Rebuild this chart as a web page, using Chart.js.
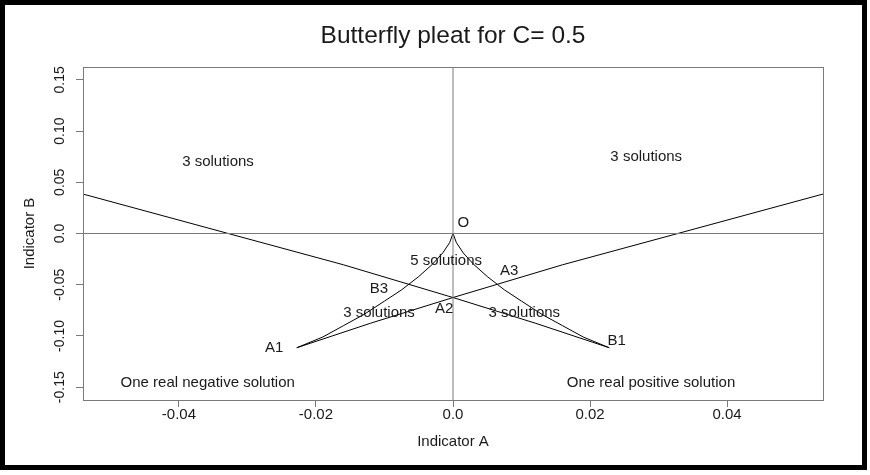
<!DOCTYPE html>
<html>
<head>
<meta charset="utf-8">
<script src="https://cdn.jsdelivr.net/npm/chart.js@4.4.0/dist/chart.umd.min.js"></script>
<style>
  html, body { margin: 0; padding: 0; background: #fff; }
  #area { width: 870px; height: 475px; position: relative; }
</style>
</head>
<body>
<div id="area"><canvas id="grafico"></canvas></div>
<script>
// axis ticks
const xTicks = [-0.04, -0.02, 0, 0.02, 0.04];
const xTickLabels = ['-0.04', '-0.02', '0.0', '0.02', '0.04'];
const yTicks = [-0.15, -0.10, -0.05, 0, 0.05, 0.10, 0.15];
const yTickLabels = ['-0.15', '-0.10', '-0.05', '0.0', '0.05', '0.10', '0.15'];

// bifurcation curve, traced in one go: upper left -> B1 -> O -> A1 -> upper right
const curveA = [-0.054, -0.0328, -0.016, 0.0, 0.012, 0.0228,
  0.019, 0.016, 0.013, 0.010, 0.0075, 0.005, 0.003, 0.0015, 0.0005, 0.0,
  -0.0005, -0.0015, -0.003, -0.005, -0.0075, -0.010, -0.013, -0.016, -0.019, -0.0228,
  -0.012, 0.0, 0.016, 0.0328, 0.054];
const curveB = [0.0385, 0.0, -0.0305, -0.0625, -0.0875, -0.1115,
  -0.101, -0.090, -0.079, -0.066, -0.055, -0.042, -0.030, -0.019, -0.009, 0.0,
  -0.009, -0.019, -0.030, -0.042, -0.055, -0.066, -0.079, -0.090, -0.101, -0.1115,
  -0.0875, -0.0625, -0.0305, 0.0, 0.0385];

// reference lines A = 0 and B = 0
const hLineA = [-0.054, 0.054];
const hLineB = [0, 0];
const vLineA = [0, 0];
const vLineB = [-0.1625, 0.1625];

// region labels
const labelText = ['3 solutions', '3 solutions', 'O', '5 solutions', 'A3', 'B3', '3 solutions', 'A2',
  '3 solutions', 'A1', 'B1', 'One real negative solution', 'One real positive solution'];
const labelA = [-0.0343, 0.0282, 0.0015, -0.0010, 0.0082, -0.0108, -0.0108, -0.0013,
  0.0104, -0.0261, 0.0239, -0.0358, 0.0289];
const labelB = [0.0700, 0.0749, 0.0105, -0.0270, -0.0368, -0.0540, -0.0774, -0.0739,
  -0.0774, -0.1116, -0.1052, -0.1458, -0.1458];

const toPoints = (xs, ys) => xs.map((x, i) => ({ x: x, y: ys[i] }));

const fonte = '"Liberation Sans", Arial, sans-serif';
const corTexto = '#1a1a1a';
const corEixo = '#7a7a7a';

const extras = {
  id: 'extras',
  beforeDraw(chart) {
    const ctx = chart.ctx;
    ctx.save();
    ctx.fillStyle = '#fff';
    ctx.fillRect(0, 0, chart.width, chart.height);
    ctx.restore();
  },
  afterDraw(chart) {
    const ctx = chart.ctx;
    const area = chart.chartArea;
    const sx = chart.scales.x;
    const sy = chart.scales.y;
    const meio = (area.left + area.right) / 2;
    ctx.save();

    // box around the plot
    ctx.strokeStyle = corEixo;
    ctx.lineWidth = 1;
    ctx.strokeRect(Math.round(area.left) + 0.5, Math.round(area.top) + 0.5,
      Math.round(area.right - area.left), Math.round(area.bottom - area.top));

    // title
    ctx.fillStyle = corTexto;
    ctx.font = '24.5px ' + fonte;
    ctx.textAlign = 'center';
    ctx.textBaseline = 'middle';
    ctx.fillText('Butterfly pleat for C= 0.5', meio, 36);

    // y tick labels, turned like in R
    ctx.font = '14px ' + fonte;
    yTicks.forEach((v, i) => {
      ctx.save();
      ctx.translate(area.left - 23, sy.getPixelForValue(v));
      ctx.rotate(-Math.PI / 2);
      ctx.fillText(yTickLabels[i], 0, 0);
      ctx.restore();
    });

    // axis titles
    ctx.font = '15px ' + fonte;
    ctx.fillText('Indicator A', meio, 442);
    ctx.save();
    ctx.translate(30, (area.top + area.bottom) / 2);
    ctx.rotate(-Math.PI / 2);
    ctx.fillText('Indicator B', 0, 0);
    ctx.restore();

    // labels inside the plot
    ctx.font = '15px ' + fonte;
    labelText.forEach((t, i) => {
      ctx.fillText(t, sx.getPixelForValue(labelA[i]), sy.getPixelForValue(labelB[i]));
    });

    // black frame of the window
    ctx.strokeStyle = '#000';
    ctx.lineWidth = 5;
    ctx.strokeRect(2.5, 2.5, 862, 465);
    ctx.restore();
  }
};

const ctx = document.getElementById('grafico').getContext('2d');
new Chart(ctx, {
  type: 'scatter',
  data: {
    datasets: [
      {
        data: toPoints(hLineA, hLineB),
        showLine: true,
        borderColor: corEixo,
        borderWidth: 1,
        pointRadius: 0
      },
      {
        data: toPoints(vLineA, vLineB),
        showLine: true,
        borderColor: corEixo,
        borderWidth: 1,
        pointRadius: 0
      },
      {
        data: toPoints(curveA, curveB),
        showLine: true,
        borderColor: '#000',
        borderWidth: 1,
        pointRadius: 0,
        tension: 0
      }
    ]
  },
  options: {
    responsive: true,
    maintainAspectRatio: false,
    animation: false,
    events: [],
    layout: { padding: { top: 67, right: 47, left: 0, bottom: 0 } },
    plugins: {
      legend: { display: false },
      tooltip: { enabled: false },
      title: { display: false }
    },
    scales: {
      x: {
        type: 'linear',
        min: -0.054,
        max: 0.054,
        afterBuildTicks: s => { s.ticks = xTicks.map(v => ({ value: v })); },
        afterFit: s => { s.height = 75; },
        grid: { drawOnChartArea: false, tickLength: 7, color: corEixo },
        border: { display: true, color: corEixo },
        ticks: {
          color: corTexto,
          font: { family: fonte, size: 15 },
          padding: -1,
          maxRotation: 0,
          callback: v => xTickLabels[xTicks.indexOf(v)]
        }
      },
      y: {
        type: 'linear',
        min: -0.1625,
        max: 0.1625,
        afterBuildTicks: s => { s.ticks = yTicks.map(v => ({ value: v })); },
        afterFit: s => { s.width = 83; },
        grid: { drawOnChartArea: false, tickLength: 7, color: corEixo },
        border: { display: true, color: corEixo },
        ticks: { display: false }
      }
    }
  },
  plugins: [extras]
});
</script>
</body>
</html>
